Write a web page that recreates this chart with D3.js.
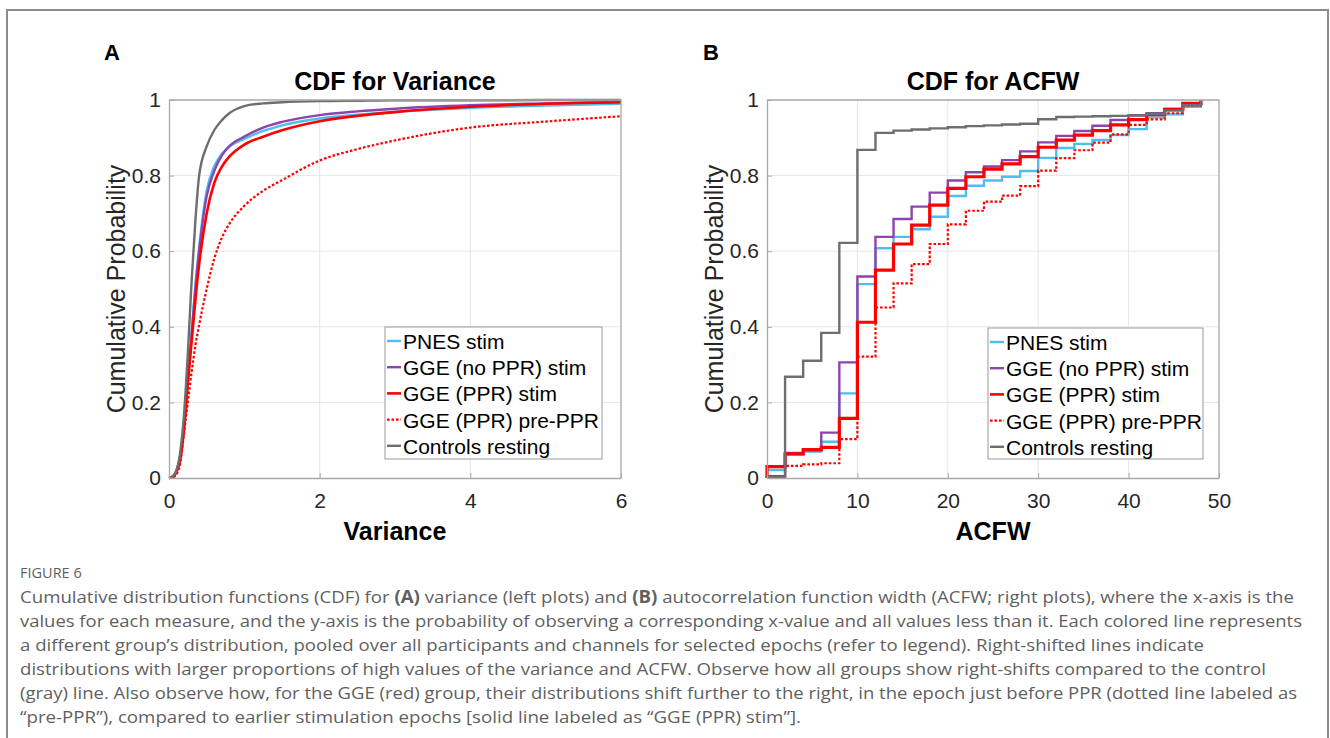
<!DOCTYPE html>
<html>
<head>
<meta charset="utf-8">
<script src="https://cdn.jsdelivr.net/npm/d3@7"></script>
<style>
  body { margin: 0; background: #fff; }
  svg { display: block; }
</style>
</head>
<body>
<svg id="fig" width="1330" height="738"></svg>
<script>
// ---------- data ----------
const groupNames = ["PNES stim", "GGE (no PPR) stim", "GGE (PPR) stim", "GGE (PPR) pre-PPR", "Controls resting"];

// Panel A: empirical CDF of variance, sampled at these variance values
const varianceX = [0, 0.05, 0.1, 0.15, 0.2, 0.25, 0.3, 0.35, 0.4, 0.5, 0.6, 0.7, 0.8, 1.0, 1.25, 1.5, 2, 2.5, 3, 4, 5, 6];
const pnesVariance     = [0, 0.004, 0.02, 0.06, 0.14, 0.26, 0.38, 0.51, 0.61, 0.76, 0.825, 0.857, 0.876, 0.897, 0.918, 0.933, 0.951, 0.961, 0.969, 0.979, 0.985, 0.99];
const ggeNoPprVariance = [0, 0.004, 0.02, 0.06, 0.14, 0.26, 0.38, 0.50, 0.60, 0.745, 0.812, 0.853, 0.878, 0.903, 0.927, 0.942, 0.96, 0.97, 0.977, 0.986, 0.991, 0.995];
const ggePprVariance   = [0, 0.003, 0.015, 0.05, 0.13, 0.25, 0.36, 0.47, 0.565, 0.70, 0.78, 0.823, 0.85, 0.882, 0.903, 0.92, 0.944, 0.958, 0.968, 0.982, 0.99, 0.994];
const prePprVariance   = [0, 0.002, 0.01, 0.04, 0.12, 0.20, 0.28, 0.35, 0.405, 0.50, 0.58, 0.635, 0.672, 0.72, 0.76, 0.788, 0.84, 0.87, 0.893, 0.927, 0.943, 0.957];
const controlsVariance = [0, 0.005, 0.02, 0.07, 0.17, 0.33, 0.52, 0.68, 0.80, 0.877, 0.92, 0.946, 0.965, 0.984, 0.991, 0.994, 0.997, 0.998, 0.999, 0.999, 1.0, 1.0];

// Panel B: empirical CDF of ACFW, value held from each bin start to the next
const acfwBinStart = [0, 2, 4, 6, 8, 10, 12, 14, 16, 18, 20, 22, 24, 26, 28, 30, 32, 34, 36, 38, 40, 42, 44, 46];
const acfwLast = 48;
const pnesAcfw     = [0.021, 0.062, 0.070, 0.096, 0.224, 0.513, 0.608, 0.638, 0.658, 0.691, 0.746, 0.773, 0.787, 0.797, 0.812, 0.847, 0.873, 0.884, 0.894, 0.907, 0.923, 0.954, 0.962, 0.982];
const ggeNoPprAcfw = [0.005, 0.066, 0.073, 0.120, 0.306, 0.533, 0.638, 0.685, 0.718, 0.755, 0.787, 0.809, 0.824, 0.841, 0.864, 0.888, 0.905, 0.918, 0.932, 0.947, 0.959, 0.965, 0.976, 0.990];
const ggePprAcfw   = [0.030, 0.064, 0.075, 0.081, 0.158, 0.412, 0.550, 0.619, 0.669, 0.722, 0.766, 0.797, 0.817, 0.831, 0.850, 0.875, 0.894, 0.907, 0.919, 0.934, 0.948, 0.961, 0.975, 0.991];
const prePprAcfw   = [0.005, 0.032, 0.036, 0.039, 0.103, 0.321, 0.451, 0.515, 0.566, 0.619, 0.671, 0.707, 0.731, 0.747, 0.772, 0.813, 0.846, 0.867, 0.887, 0.909, 0.934, 0.949, 0.965, 0.985];
const controlsAcfw = [0.003, 0.268, 0.310, 0.384, 0.622, 0.868, 0.913, 0.919, 0.922, 0.925, 0.928, 0.931, 0.933, 0.935, 0.937, 0.949, 0.955, 0.956, 0.957, 0.958, 0.960, 0.963, 0.972, 0.986];

const yTicks = [0, 0.2, 0.4, 0.6, 0.8, 1];
const yTickLabels = ["0", "0.2", "0.4", "0.6", "0.8", "1"];
const varianceTicks = [0, 2, 4, 6];
const acfwTicks = [0, 10, 20, 30, 40, 50];

const captionLines = [
  [["Cumulative distribution functions (CDF) for ", false], ["(A)", true], [" variance (left plots) and ", false], ["(B)", true], [" autocorrelation function width (ACFW; right plots), where the x-axis is the", false]],
  [["values for each measure, and the y-axis is the probability of observing a corresponding x-value and all values less than it. Each colored line represents", false]],
  [["a different group\u2019s distribution, pooled over all participants and channels for selected epochs (refer to legend). Right-shifted lines indicate", false]],
  [["distributions with larger proportions of high values of the variance and ACFW. Observe how all groups show right-shifts compared to the control", false]],
  [["(gray) line. Also observe how, for the GGE (red) group, their distributions shift further to the right, in the epoch just before PPR (dotted line labeled as", false]],
  [["\u201cpre-PPR\u201d), compared to earlier stimulation epochs [solid line labeled as \u201cGGE (PPR) stim\u201d].", false]]
];

// ---------- styling ----------
const styles = [
  { color: "#4dbeee", width: 2.4, dash: null },
  { color: "#8e44ad", width: 2.4, dash: null },
  { color: "#ff0000", width: 2.6, dash: null },
  { color: "#ff0000", width: 2.2, dash: "2.6,1.9" },
  { color: "#6e6e6e", width: 2.4, dash: null }
];
const stylesB = styles.map((s, i) => i === 2 ? Object.assign({}, s, { width: 3.2 }) : s);

const FONT = "Liberation Sans, Arial, Helvetica, sans-serif";
const svg = d3.select("#fig");

// outer frame (top, left, right edges)
svg.append("path")
  .attr("d", "M7,738 L7,10 L1328,10 L1328,738")
  .attr("fill", "none").attr("stroke", "#8c8c8c").attr("stroke-width", 2);

function drawPanel(opts) {
  const x = d3.scaleLinear().domain(opts.xDomain).range([opts.left, opts.right]);
  const y = d3.scaleLinear().domain([0, 1]).range([478, 100]);
  const g = svg.append("g");

  // grid
  g.append("g").selectAll("line").data(opts.xTicks.slice(1, -1)).join("line")
    .attr("x1", d => x(d)).attr("x2", d => x(d)).attr("y1", y(0)).attr("y2", y(1))
    .attr("stroke", "#e6e6e6").attr("stroke-width", 1);
  g.append("g").selectAll("line").data(yTicks.slice(1, -1)).join("line")
    .attr("x1", x.range()[0]).attr("x2", x.range()[1]).attr("y1", d => y(d)).attr("y2", d => y(d))
    .attr("stroke", "#e6e6e6").attr("stroke-width", 1);

  // series
  opts.series.forEach((pts, i) => {
    const s = opts.styles[i];
    g.append("path")
      .datum(pts)
      .attr("fill", "none")
      .attr("stroke", s.color)
      .attr("stroke-width", s.width)
      .attr("stroke-dasharray", s.dash)
      .attr("stroke-linejoin", "miter")
      .attr("d", d3.line().x(d => x(d[0])).y(d => y(d[1])).curve(opts.curve));
  });

  // axes (inward ticks)
  const xAxis = d3.axisBottom(x).tickValues(opts.xTicks).tickFormat(d3.format("d"))
    .tickSizeInner(-5).tickSizeOuter(0).tickPadding(15);
  const yAxis = d3.axisLeft(y).tickValues(yTicks).tickFormat((d, i) => yTickLabels[i])
    .tickSizeInner(-5).tickSizeOuter(0).tickPadding(8);
  const gx = g.append("g").attr("transform", `translate(0,${y(0)})`).call(xAxis);
  const gy = g.append("g").attr("transform", `translate(${x.range()[0]},0)`).call(yAxis);
  [gx, gy].forEach(a => {
    a.select(".domain").attr("stroke", "#a8a8a8").attr("stroke-width", 1.3);
    a.selectAll(".tick line").attr("stroke", "#a8a8a8");
    a.selectAll(".tick text").attr("fill", "#262626").style("font-family", FONT).style("font-size", "21px");
  });
  // top and right box edges
  g.append("path")
    .attr("d", `M${x.range()[0]},${y(1)} L${x.range()[1]},${y(1)} L${x.range()[1]},${y(0)}`)
    .attr("fill", "none").attr("stroke", "#a8a8a8").attr("stroke-width", 1.3);

  // labels
  g.append("text").attr("x", opts.letterX).attr("y", 60).attr("text-anchor", "middle")
    .style("font-family", FONT).style("font-weight", "bold").style("font-size", "22px").text(opts.letter);
  g.append("text").attr("x", (opts.left + opts.right) / 2).attr("y", 90).attr("text-anchor", "middle")
    .style("font-family", FONT).style("font-weight", "bold").style("font-size", "25px").text(opts.title);
  g.append("text").attr("x", (opts.left + opts.right) / 2).attr("y", 540).attr("text-anchor", "middle")
    .style("font-family", FONT).style("font-weight", "bold").style("font-size", "25px").text(opts.xLabel);
  g.append("text").attr("transform", `translate(${opts.yLabelX},289) rotate(-90)`).attr("text-anchor", "middle")
    .attr("fill", "#262626")
    .style("font-family", FONT).style("font-size", "25px").text("Cumulative Probability");

  // legend
  const lg = g.append("g").attr("transform", `translate(${opts.legend[0]},${opts.legend[1]})`);
  lg.append("rect").attr("width", opts.legend[2]).attr("height", opts.legend[3])
    .attr("fill", "#fff").attr("stroke", "#9a9a9a").attr("stroke-width", 1);
  groupNames.forEach((name, i) => {
    const cy = 22 + i * 26.2 - 8;
    const s = opts.styles[i];
    lg.append("line").attr("x1", 2).attr("x2", 16).attr("y1", cy).attr("y2", cy)
      .attr("stroke", s.color).attr("stroke-width", Math.min(s.width, 2.6)).attr("stroke-dasharray", s.dash);
    lg.append("text").attr("x", 18).attr("y", 22 + i * 26.2)
      .style("font-family", FONT).style("font-size", "21px").text(name);
  });
}

// Panel A
const varianceSeries = [pnesVariance, ggeNoPprVariance, ggePprVariance, prePprVariance, controlsVariance]
  .map(vals => varianceX.map((v, i) => [v, vals[i]]));
drawPanel({
  xDomain: [0, 6], left: 169, right: 621, xTicks: varianceTicks,
  series: varianceSeries, styles: styles, curve: d3.curveMonotoneX,
  letter: "A", letterX: 112, title: "CDF for Variance", xLabel: "Variance", yLabelX: 125,
  legend: [385, 327, 217, 132]
});

// Panel B
const acfwSeries = [pnesAcfw, ggeNoPprAcfw, ggePprAcfw, prePprAcfw, controlsAcfw]
  .map(vals => [[0, 0]].concat(acfwBinStart.map((v, i) => [v, vals[i]])).concat([[acfwLast, 1]]));
drawPanel({
  xDomain: [0, 50], left: 767, right: 1219, xTicks: acfwTicks,
  series: acfwSeries, styles: stylesB, curve: d3.curveStepAfter,
  letter: "B", letterX: 711, title: "CDF for ACFW", xLabel: "ACFW", yLabelX: 723,
  legend: [988, 328, 215, 131]
});

// caption
const CAP_FONT = "Open Sans, Lato, sans-serif";
svg.append("text").attr("x", 20).attr("y", 578).attr("fill", "#5f5f5f")
  .style("font-family", CAP_FONT).style("font-size", "14.5px").text("FIGURE 6");
const captionEnds = [1294, 1302, 1204, 1266, 1297, 801];
captionLines.forEach((parts, i) => {
  const t = svg.append("text").attr("x", 20).attr("y", 603 + i * 24).attr("fill", "#5f5f5f")
    .style("font-family", CAP_FONT).style("font-size", "17px")
    .attr("textLength", captionEnds[i] - 20).attr("lengthAdjust", "spacingAndGlyphs");
  parts.forEach(([txt, bold]) => {
    t.append("tspan").style("font-weight", bold ? "bold" : null).text(txt);
  });
});
</script>
</body>
</html>
